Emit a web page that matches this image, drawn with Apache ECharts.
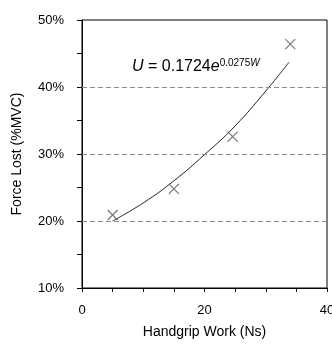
<!DOCTYPE html>
<html><head><meta charset="utf-8">
<script src="https://cdn.jsdelivr.net/npm/echarts@6/dist/echarts.min.js"></script>
<style>html,body{margin:0;padding:0;background:#fff}#c{width:332px;height:345px}</style>
</head><body><div id="c"></div>
<script>
var workNs = [5, 15, 24.6, 34];
var forceLost = [20.9, 24.8, 32.6, 46.4];
var trendW = [5, 10, 15, 20, 25, 30, 33.8];
var trendU = [20.0, 22.7, 26.0, 29.9, 34.2, 39.4, 43.7];
var gridLevels = [20, 30, 40];
var xTicks = [0, 20, 40];
var yTicks = [10, 20, 30, 40, 50];

var F = 'Liberation Sans, Arial, sans-serif';
var chart = echarts.init(document.getElementById('c'));
chart.setOption({
  animation: false,
  backgroundColor: '#fff',
  grid: {left: 82, right: 5, top: 20, bottom: 57, containLabel: false, outerBoundsMode: 'none',
         show: true, borderColor: '#000', borderWidth: 1, backgroundColor: '#fff'},
  title: {
    left: 127, top: 53,
    text: '{u|U}{m| = 0.1724}{e|e}{s|0.0275}{w|W}',
    textStyle: {
      fontWeight: 'normal',
      rich: {
        u: {fontFamily: F, fontSize: 16, fontWeight: 'normal', fontStyle: 'italic', color: '#000', lineHeight: 18},
        m: {fontFamily: F, fontSize: 16, fontWeight: 'normal', color: '#000', lineHeight: 18},
        e: {fontFamily: F, fontSize: 16, fontWeight: 'normal', fontStyle: 'italic', color: '#000', lineHeight: 18},
        s: {fontFamily: F, fontSize: 10, fontWeight: 'normal', color: '#000', verticalAlign: 'top', lineHeight: 18},
        w: {fontFamily: F, fontSize: 10, fontWeight: 'normal', fontStyle: 'italic', color: '#000', verticalAlign: 'top', lineHeight: 18}
      }
    }
  },
  xAxis: {
    type: 'value', min: xTicks[0], max: xTicks[xTicks.length - 1], interval: 20,
    name: 'Handgrip Work (Ns)', nameLocation: 'middle', nameGap: 37,
    nameTextStyle: {fontFamily: F, fontSize: 14, color: '#000'},
    axisLine: {show: true, onZero: false, lineStyle: {color: '#000', width: 1}},
    axisTick: {show: true, inside: false, length: 4, lineStyle: {color: '#000'}},
    minorTick: {show: true, splitNumber: 4, length: 4, lineStyle: {color: '#000'}},
    axisLabel: {fontFamily: F, fontSize: 13, color: '#000', margin: 16, hideOverlap: false},
    splitLine: {show: false}
  },
  yAxis: {
    type: 'value', min: yTicks[0], max: yTicks[yTicks.length - 1], interval: 10,
    name: 'Force Lost (%MVC)', nameLocation: 'middle', nameGap: 58, nameRotate: 90,
    nameTextStyle: {fontFamily: F, fontSize: 14, color: '#000'},
    axisLine: {show: true, onZero: false, lineStyle: {color: '#000', width: 1}},
    axisTick: {show: true, inside: false, length: 5, lineStyle: {color: '#000'}},
    minorTick: {show: true, splitNumber: 2, length: 5, lineStyle: {color: '#000'}},
    axisLabel: {fontFamily: F, fontSize: 13, color: '#000', margin: 18, formatter: '{value}%'},
    splitLine: {show: false}
  },
  series: [{
    type: 'line',
    data: trendW.map(function (w, i) { return [w, trendU[i]]; }),
    smooth: true, showSymbol: false, symbol: 'none',
    lineStyle: {color: '#222', width: 1},
    markLine: {
      silent: true, symbol: 'none', label: {show: false},
      lineStyle: {color: '#8a8a8a', type: [5, 3], width: 1},
      data: gridLevels.map(function (v) { return {yAxis: v}; })
    },
    z: 3
  }, {
    type: 'scatter',
    data: workNs.map(function (w, i) { return [w, forceLost[i]]; }),
    symbol: 'path://M0,0L10,10M10,0L0,10', symbolSize: 10,
    itemStyle: {color: 'none', borderColor: '#555', borderWidth: 1.2},
    z: 4
  }]
});
</script></body></html>
